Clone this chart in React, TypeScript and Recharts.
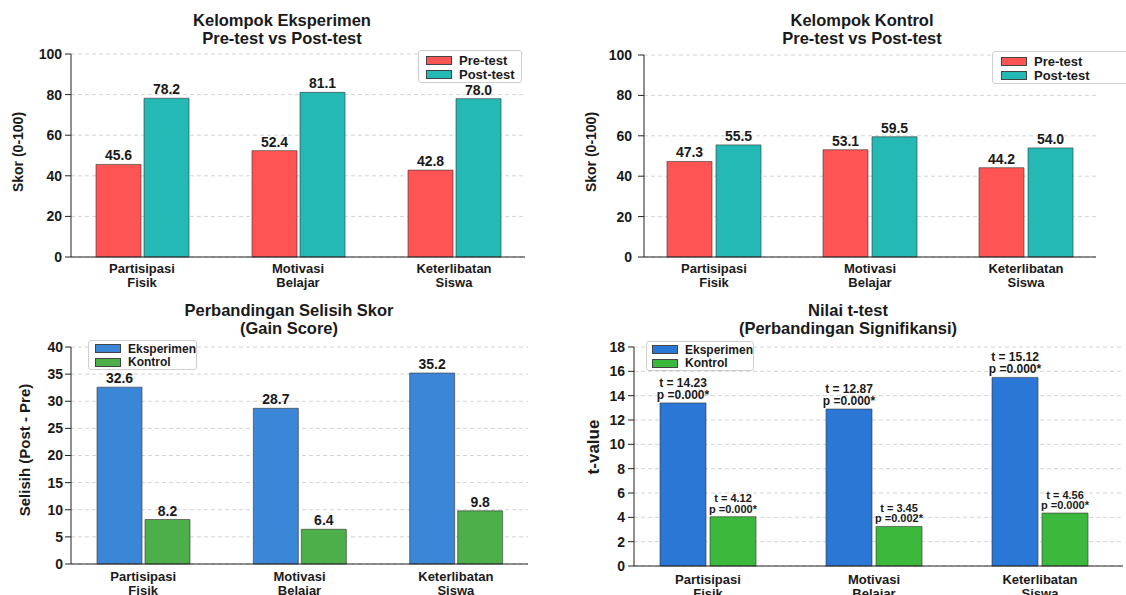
import React from 'react'
import { BarChart, Bar, XAxis, YAxis, CartesianGrid, LabelList } from 'recharts'

const categories = ['Partisipasi Fisik', 'Motivasi Belajar', 'Keterlibatan Siswa']

// skor kelompok eksperimen
const eksPre = [45.6, 52.4, 42.8]
const eksPost = [78.2, 81.1, 78.0]
// skor kelompok kontrol
const konPre = [47.3, 53.1, 44.2]
const konPost = [55.5, 59.5, 54.0]
// gain score (post - pre)
const gainEks = [32.6, 28.7, 35.2]
const gainKon = [8.2, 6.4, 9.8]
// t-test: bar heights as drawn + the annotation texts
const tEks = [13.4, 12.9, 15.5]
const tKon = [4.05, 3.25, 4.35]
const tEksText = ['14.23', '12.87', '15.12']
const tKonText = ['4.12', '3.45', '4.56']
const pEksText = ['0.000', '0.000', '0.000']
const pKonText = ['0.000', '0.002', '0.000']

const scoreTicks = [0, 20, 40, 60, 80, 100]
const gainTicks = [0, 5, 10, 15, 20, 25, 30, 35, 40]
const tTicks = [0, 2, 4, 6, 8, 10, 12, 14, 16, 18]

const FONT = '"Liberation Sans", Arial, sans-serif'
const INK = '#1a1a1a'
const RED = '#ff5454'
const TEAL = '#25b9b5'
const BLUE = '#3b86d6'
const GREEN = '#4caf4a'
const BLUE_T = '#2a77d6'
const GREEN_T = '#3cb93c'

const eksData = categories.map((name, i) => ({ name, a: eksPre[i], b: eksPost[i] }))
const konData = categories.map((name, i) => ({ name, a: konPre[i], b: konPost[i] }))
const gainData = categories.map((name, i) => ({ name, a: gainEks[i], b: gainKon[i] }))
const tData = categories.map((name, i) => ({
  name,
  a: tEks[i],
  b: tKon[i],
  aNote: `t = ${tEksText[i]}|p =${pEksText[i]}*`,
  bNote: `t = ${tKonText[i]}|p =${pKonText[i]}*`,
}))

const CategoryTick = (props: any) => {
  const { x, y, payload, first } = props
  const [l1, l2] = String(payload.value).split(' ')
  return (
    <text textAnchor="middle" fontFamily={FONT} fontWeight="bold" fontSize={13} fill={INK}>
      <tspan x={x} y={y + first}>{l1}</tspan>
      <tspan x={x} y={y + first + 14}>{l2}</tspan>
    </text>
  )
}

const valueLabel = (props: any) => {
  const { x, y, width, value } = props
  return (
    <text x={x + width / 2} y={y - 4} textAnchor="middle" fontFamily={FONT} fontWeight="bold" fontSize={14} fill={INK}>
      {Number(value).toFixed(1)}
    </text>
  )
}

const noteLabel = (size: number, gap: number) => (props: any) => {
  const { x, y, width, value } = props
  const [t, p] = String(value).split('|')
  const cx = x + width / 2
  return (
    <text textAnchor="middle" fontFamily={FONT} fontWeight="bold" fontSize={size} fill={INK}>
      <tspan x={cx} y={y - 4 - gap}>{t}</tspan>
      <tspan x={cx} y={y - 4}>{p}</tspan>
    </text>
  )
}

const Title = ({ cx, top, lines }: any) => (
  <div
    style={{
      position: 'absolute', left: cx, top, transform: 'translateX(-50%)', textAlign: 'center',
      fontFamily: FONT, fontWeight: 'bold', fontSize: 16.5, lineHeight: '17.5px', color: INK, whiteSpace: 'nowrap',
    }}
  >
    {lines.map((l: string) => <div key={l}>{l}</div>)}
  </div>
)

const YLabel = ({ cx, cy, text, size }: any) => (
  <div
    style={{
      position: 'absolute', left: cx, top: cy, transform: 'translate(-50%, -50%) rotate(-90deg)',
      fontFamily: FONT, fontWeight: 'bold', fontSize: size, color: INK, whiteSpace: 'nowrap', lineHeight: 1,
    }}
  >
    {text}
  </div>
)

const LegendBox = ({ left, top, width, rowH, fontSize, pad, items }: any) => (
  <div
    style={{
      position: 'absolute', left, top, width, padding: pad, boxSizing: 'border-box',
      border: '1px solid #cfcfcf', borderRadius: 3, background: 'rgba(255,255,255,0.9)',
      fontFamily: FONT, fontWeight: 'bold', fontSize, color: INK,
    }}
  >
    {items.map((it: any) => (
      <div key={it.label} style={{ display: 'flex', alignItems: 'center', height: rowH, whiteSpace: 'nowrap' }}>
        <span style={{ width: 24, height: 7, background: it.color, border: '1px solid #444', marginRight: 7, flex: 'none' }} />
        {it.label}
      </div>
    ))}
  </div>
)

function Panel({ left, top, width, height, data, colors, margin, pad, yMax, ticks, tickGap, barSize, barGap, firstLine, labelA, labelB }: any) {
  return (
    <div style={{ position: 'absolute', left, top }}>
      <BarChart width={width} height={height} data={data} margin={margin} barGap={barGap}>
        <CartesianGrid vertical={false} stroke="#d4d4d4" strokeDasharray="4 3" />
        <XAxis
          dataKey="name"
          height={margin.xh}
          padding={pad}
          tickLine={false}
          tickSize={0}
          tickMargin={0}
          interval={0}
          axisLine={{ stroke: '#222' }}
          tick={(p: any) => <CategoryTick {...p} first={firstLine} />}
        />
        <YAxis
          width={40}
          domain={[0, yMax]}
          ticks={ticks}
          interval={0}
          tickSize={6}
          tickMargin={tickGap}
          axisLine={{ stroke: '#222' }}
          tickLine={{ stroke: '#222' }}
          tick={{ fontFamily: FONT, fontWeight: 'bold', fontSize: 14, fill: INK }}
        />
        <Bar dataKey="a" fill={colors[0]} stroke="#333" strokeOpacity={0.6} barSize={barSize} isAnimationActive={false}>
          {labelA}
        </Bar>
        <Bar dataKey="b" fill={colors[1]} stroke="#333" strokeOpacity={0.6} barSize={barSize} isAnimationActive={false}>
          {labelB}
        </Bar>
      </BarChart>
    </div>
  )
}

export default function App() {
  return (
    <div style={{ position: 'absolute', left: 0, top: 0, width: 1126, height: 595, overflow: 'hidden', background: '#fff' }}>
      <Panel
        left={0} top={0} width={563} height={295} data={eksData} colors={[RED, TEAL]}
        margin={{ top: 54, right: 38, left: 31, bottom: 8, xh: 30 }} pad={{ left: -7, right: -7 }}
        yMax={100} ticks={scoreTicks} tickGap={3} barSize={45} barGap={3} firstLine={15.5}
        labelA={<LabelList dataKey="a" content={valueLabel} />}
        labelB={<LabelList dataKey="b" content={valueLabel} />}
      />
      <Title cx={282} top={12} lines={['Kelompok Eksperimen', 'Pre-test vs Post-test']} />
      <YLabel cx={18} cy={152} text="Skor (0-100)" size={14} />
      <LegendBox left={418} top={50} width={104} rowH={14} fontSize={13} pad="2px 0 1px 7px"
        items={[{ label: 'Pre-test', color: RED }, { label: 'Post-test', color: TEAL }]} />

      <Panel
        left={563} top={0} width={563} height={295} data={konData} colors={[RED, TEAL]}
        margin={{ top: 55, right: 30, left: 41, bottom: 8, xh: 30 }} pad={{ left: -8, right: -8 }}
        yMax={100} ticks={scoreTicks} tickGap={6} barSize={45} barGap={4} firstLine={15.5}
        labelA={<LabelList dataKey="a" content={valueLabel} />}
        labelB={<LabelList dataKey="b" content={valueLabel} />}
      />
      <Title cx={862} top={12} lines={['Kelompok Kontrol', 'Pre-test vs Post-test']} />
      <YLabel cx={591} cy={152} text="Skor (0-100)" size={14} />
      <LegendBox left={992} top={51} width={140} rowH={14} fontSize={13} pad="2px 0 1px 8px"
        items={[{ label: 'Pre-test', color: RED }, { label: 'Post-test', color: TEAL }]} />

      <Panel
        left={0} top={295} width={563} height={300} data={gainData} colors={[BLUE, GREEN]}
        margin={{ top: 52, right: 35, left: 31, bottom: 5, xh: 26 }} pad={{ left: -6, right: -6 }}
        yMax={40} ticks={gainTicks} tickGap={2} barSize={45} barGap={3} firstLine={17}
        labelA={<LabelList dataKey="a" content={valueLabel} />}
        labelB={<LabelList dataKey="b" content={valueLabel} />}
      />
      <Title cx={289} top={302} lines={['Perbandingan Selisih Skor', '(Gain Score)']} />
      <YLabel cx={24} cy={450} text="Selisih (Post - Pre)" size={15} />
      <LegendBox left={88} top={340} width={109} rowH={13.5} fontSize={12} pad="1px 0 0 6px"
        items={[{ label: 'Eksperimen', color: BLUE }, { label: 'Kontrol', color: GREEN }]} />

      <Panel
        left={563} top={295} width={563} height={300} data={tData} colors={[BLUE_T, GREEN_T]}
        margin={{ top: 52, right: 3, left: 31, bottom: 3, xh: 26 }} pad={{ left: -9, right: 0 }}
        yMax={18} ticks={tTicks} tickGap={3} barSize={46} barGap={4} firstLine={17.5}
        labelA={<LabelList dataKey="aNote" content={noteLabel(12, 12)} />}
        labelB={<LabelList dataKey="bNote" content={noteLabel(11, 10.5)} />}
      />
      <Title cx={848} top={302} lines={['Nilai t-test', '(Perbandingan Signifikansi)']} />
      <YLabel cx={593} cy={447} text="t-value" size={17} />
      <LegendBox left={646} top={341} width={108} rowH={13.5} fontSize={12} pad="1px 0 0 5px"
        items={[{ label: 'Eksperimen', color: BLUE_T }, { label: 'Kontrol', color: GREEN_T }]} />
    </div>
  )
}
